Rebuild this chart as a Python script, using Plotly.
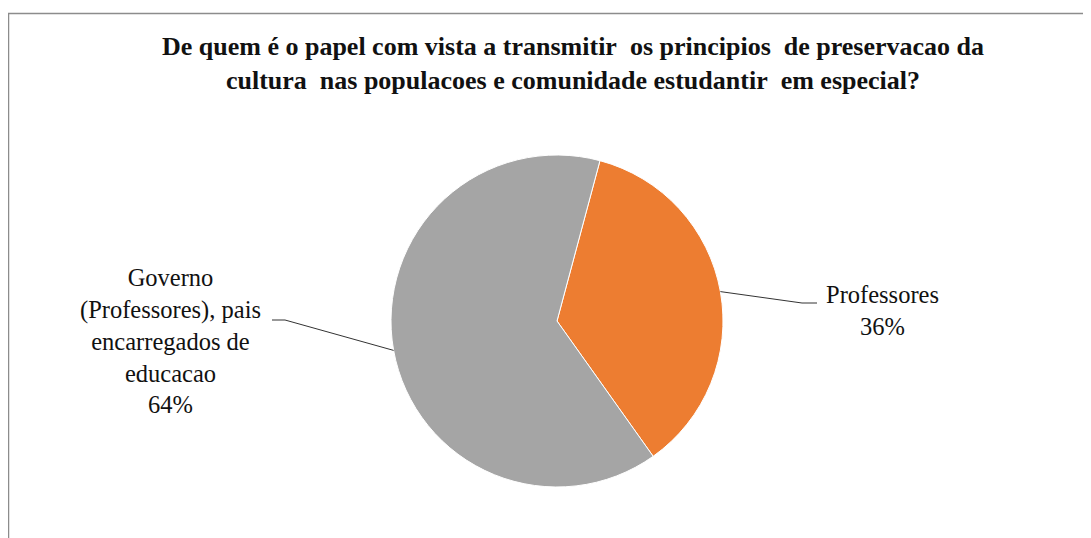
import math

import plotly.graph_objects as go

# Data
labels = ["Professores", "Governo (Professores), pais encarregados de educacao"]
label_lines = [["Professores"], ["Governo", "(Professores), pais", "encarregados de", "educacao"]]
values = [36, 64]
colors = ["#ED7D31", "#A5A5A5"]

TITLE = (
    "De quem é o papel com vista a transmitir\u00a0 os principios\u00a0 de preservacao da<br>"
    "cultura\u00a0 nas populacoes e comunidade estudantir\u00a0 em especial?"
)

# the page body has an 8px margin, so the figure starts at (8, 8) on screen
OFF = 8
W, H = 1091 - OFF, 538 - OFF
ROTATION = 15
CX, CY, R = 557, 321, 166  # pie centre / radius in screen pixels

# where each label block sits and where its leader line bends (screen pixels)
label_pos = [(882, 310), (170, 341)]
elbows = [((802, 303), (817, 303)), ((285, 320), (272, 320))]

FONT = "Liberation Serif"


def px_to_paper(x, y):
    return (x - OFF) / W, 1 - (y - OFF) / H


(dx0, dy0), (dx1, dy1) = px_to_paper(CX - R, CY + R), px_to_paper(CX + R, CY - R)

fig = go.Figure(
    go.Pie(
        labels=labels,
        values=values,
        sort=False,
        direction="clockwise",
        rotation=ROTATION,
        marker=dict(colors=colors, line=dict(color="white", width=1)),
        textinfo="none",
        hoverinfo="label+percent",
        domain=dict(x=[dx0, dx1], y=[dy0, dy1]),
        showlegend=False,
    )
)

total = sum(values)
start = ROTATION
for i, v in enumerate(values):
    span = v / total * 360
    mid = math.radians(start + span / 2)
    start += span
    ax, ay = CX + R * math.sin(mid), CY - R * math.cos(mid)
    (ex, ey), (tx, ty) = elbows[i]
    p0, p1, p2 = px_to_paper(ax, ay), px_to_paper(ex, ey), px_to_paper(tx, ty)
    fig.add_shape(
        type="path",
        xref="paper",
        yref="paper",
        path=f"M {p0[0]} {p0[1]} L {p1[0]} {p1[1]} L {p2[0]} {p2[1]}",
        line=dict(color="#333333", width=1),
    )
    lx, ly = px_to_paper(*label_pos[i])
    fig.add_annotation(
        x=lx,
        y=ly,
        xref="paper",
        yref="paper",
        xanchor="center",
        yanchor="middle",
        text="<br>".join(label_lines[i] + [f"{round(v / total * 100)}%"]),
        showarrow=False,
        align="center",
        font=dict(family=FONT, size=24.5, color="#111"),
    )

# chart-area border (only top and left edges are visible in the reference)
bx0, by1 = px_to_paper(8.5, 13.5)
fig.add_shape(
    type="rect",
    xref="paper",
    yref="paper",
    x0=bx0,
    x1=1.02,
    y0=-0.02,
    y1=by1,
    line=dict(color="#8c8c8c", width=1.5),
)

tx, ty = px_to_paper(573, 55)
fig.update_layout(
    width=W,
    height=H,
    margin=dict(l=0, r=0, t=0, b=0),
    paper_bgcolor="white",
    plot_bgcolor="white",
    font=dict(family=FONT),
    title=dict(
        text=f"<b>{TITLE}</b>",
        x=tx,
        xanchor="center",
        y=ty,
        yanchor="top",
        font=dict(family=FONT, size=26, color="#111"),
    ),
)

fig.write_html("out.html")
